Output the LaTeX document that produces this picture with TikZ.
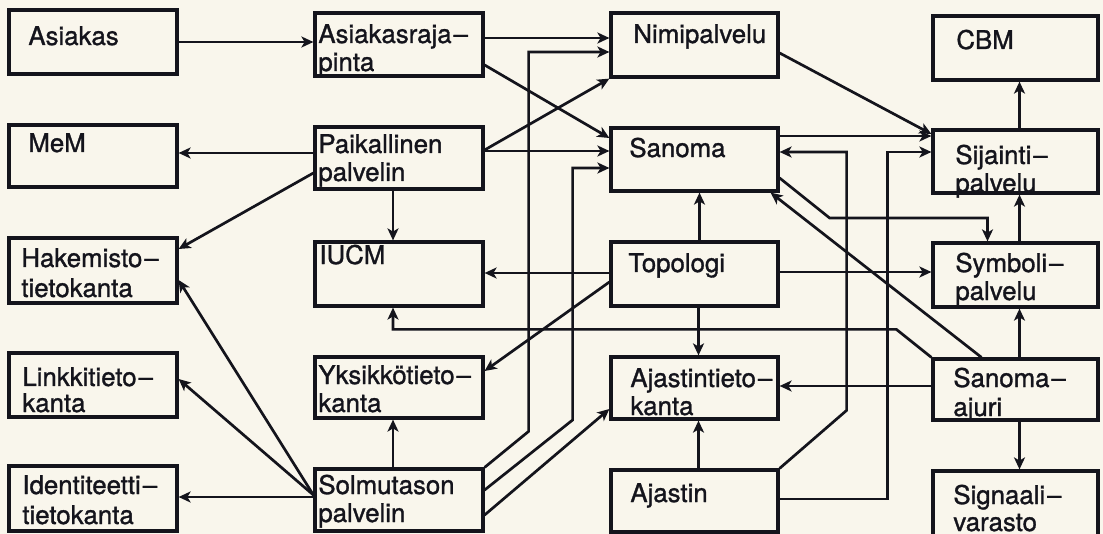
\documentclass[tikz,border=0pt]{standalone}
\usepackage{fontspec}
\setmainfont{TeX Gyre Heros}[RawFeature={embolden=1.2}]
\usetikzlibrary{arrows.meta,fit}
\definecolor{paper}{RGB}{249,246,236}
\definecolor{ink}{RGB}{20,20,28}
\newcommand{\hy}{\kern1pt–}
\begin{document}
\begin{tikzpicture}[x=0.5pt,y=-0.5pt,
  box/.style={draw=ink, line width=1.6pt, inner sep=0pt},
  lbl/.style={anchor=base west, inner sep=0pt, text=ink,
    font=\fontsize{12.9pt}{14pt}\selectfont},
  arr/.style={draw=ink, line width=1.35pt,
    -{Stealth[length=6pt,width=5.5pt,inset=1.6pt]}}]
\useasboundingbox (0,0) rectangle (1103,534);
\fill[paper] (0,0) rectangle (1103,534);
\clip (0,0) rectangle (1103,534);

% ---- boxes, column 1
\node[box, fit={(9,10) (177,74)}]   (asiakas) {};
\node[box, fit={(9,125) (177,187)}] (mem) {};
\node[box, fit={(9,238) (177,303)}] (hakem) {};
\node[box, fit={(9,353) (177,417)}] (linkki) {};
\node[box, fit={(9,466) (177,531)}] (ident) {};
% ---- column 2
\node[box, fit={(315,13) (483,76)}]   (asraja) {};
\node[box, fit={(315,127) (483,189)}] (paik) {};
\node[box, fit={(315,242) (483,306)}] (iucm) {};
\node[box, fit={(315,357) (483,418)}] (yksi) {};
\node[box, fit={(315,469) (483,531)}] (solmu) {};
% ---- column 3
\node[box, fit={(611,13) (778,77)}]   (nimi) {};
\node[box, fit={(611,128) (778,191)}] (sanoma) {};
\node[box, fit={(611,242) (778,306)}] (topo) {};
\node[box, fit={(611,357) (778,419)}] (ajtk) {};
\node[box, fit={(611,470) (778,532)}] (ajastin) {};
% ---- column 4
\node[box, fit={(933,16) (1098,80)}]   (cbm) {};
\node[box, fit={(933,130) (1098,193)}] (sij) {};
\node[box, fit={(933,243) (1098,307)}] (symb) {};
\node[box, fit={(933,359) (1098,420)}] (sajuri) {};
\node[box, fit={(933,471) (1098,545)}] (sign) {};

% ---- texts
\node[lbl] (asiakas-t) at (28,45) {Asiakas};
\node[lbl] (mem-t) at (28,152) {MeM};
\node[lbl] (hakem-t1) at (21,267) {Hakemisto\hy};
\node[lbl] (hakem-t2) at (21,297) {tietokanta};
\node[lbl] (linkki-t1) at (22,386) {Linkkitieto\hy};
\node[lbl] (linkki-t2) at (22,412) {kanta};
\node[lbl] (ident-t1) at (22,494) {Identiteetti\hy};
\node[lbl] (ident-t2) at (22,524) {tietokanta};

\node[lbl] (asraja-t1) at (318,43) {Asiakasraja\hy};
\node[lbl] (asraja-t2) at (318,71) {pinta};
\node[lbl] (paik-t1) at (318,153) {Paikallinen};
\node[lbl] (paik-t2) at (318,181) {palvelin};
\node[lbl] (iucm-t) at (319,264) {IUCM};
\node[lbl] (yksi-t1) at (318,384) {Yksikkötieto\hy};
\node[lbl] (yksi-t2) at (318,412) {kanta};
\node[lbl] (solmu-t1) at (318,494) {Solmutason};
\node[lbl] (solmu-t2) at (318,522) {palvelin};

\node[lbl] (nimi-t) at (633,43) {Nimipalvelu};
\node[lbl] (sanoma-t) at (629,157) {Sanoma};
\node[lbl] (topo-t) at (628,272) {Topologi};
\node[lbl] (ajtk-t1) at (630,387) {Ajastintieto\hy};
\node[lbl] (ajtk-t2) at (630,415) {kanta};
\node[lbl] (ajastin-t) at (630,502) {Ajastin};

\node[lbl] (cbm-t) at (956,49) {CBM};
\node[lbl] (sij-t1) at (955,164) {Sijainti\hy};
\node[lbl] (sij-t2) at (955,192) {palvelu};
\node[lbl] (symb-t1) at (955,272) {Symboli\hy};
\node[lbl] (symb-t2) at (955,300) {palvelu};
\node[lbl] (sajuri-t1) at (953,387) {Sanoma\hy};
\node[lbl] (sajuri-t2) at (953,416) {ajuri};
\node[lbl] (sign-t1) at (953,504) {Signaali\hy};
\node[lbl] (sign-t2) at (953,531) {varasto};

% ---- connectors
\draw[arr] (asiakas.east) -- (asiakas.east -| asraja.west);
\draw[arr] (paik.west |- 0,153) -- (mem.east |- 0,153);
\draw[arr] (paik.west |- 0,173) -- (hakem.east |- 0,249);
\draw[arr] (asraja.east |- 0,38) -- (nimi.west |- 0,38);
\draw[arr] (asraja.east |- 0,65) -- (sanoma.west |- 0,138);
\draw[arr] (paik.east |- 0,150) -- (nimi.south west);
\draw[arr] (paik.east |- 0,151) -- (sanoma.west |- 0,151);
\draw[arr] ([xshift=-3pt]paik.south) -- ([xshift=-3pt]iucm.north);

\draw[arr] (solmu.north east) -- ++(44,-36) |- (nimi.west |- 0,52);
\draw[arr] (solmu.east |- 0,490) -- ++(88,-70) |- (sanoma.west |- 0,168);
\draw[arr] (solmu.east |- 0,515) -- (ajtk.west |- 0,409);
\draw[arr] ([xshift=-3pt]solmu.north) -- ([xshift=-3pt]yksi.south);
\draw[arr] (solmu.west |- 0,495) -- (hakem.east |- 0,280);
\draw[arr] (solmu.west |- 0,495) -- (linkki.east |- 0,379);
\draw[arr] (solmu.west |- 0,497) -- (ident.east |- 0,497);

\draw[arr] ([xshift=2.5pt]topo.north) -- ([xshift=2.5pt]sanoma.south);
\draw[arr] (topo.west |- 0,273) -- (iucm.east |- 0,273);
\draw[arr] (topo.west |- 0,282) -- (yksi.east |- 0,371);
\draw[arr] ([xshift=2pt]topo.south) -- ([xshift=2pt]ajtk.north);
\draw[arr] (topo.east |- 0,272) -- (symb.west |- 0,272);

\draw[arr] (sanoma.east |- 0,136) -- (sij.west |- 0,136);
\draw[arr] (nimi.east |- 0,53) -- (sij.west |- 0,134);
\draw[arr] (sanoma.east |- 0,178) -- ++(50,40) -| ([xshift=-14pt]symb.north);

\draw[arr] (ajastin.north east) -- ++(67,-58) |- (sanoma.east |- 0,152);
\draw[arr] (ajastin.east |- 0,499) -- ++(108,0) |- (sij.west |- 0,152);
\draw[arr] ([xshift=2pt]ajastin.north) -- ([xshift=2pt]ajtk.south);

\draw[arr] ([xshift=2pt]sij.north) -- ([xshift=2pt]cbm.south);
\draw[arr] ([xshift=2pt]symb.north) -- ([xshift=2pt]sij.south);
\draw[arr] ([xshift=2pt]sajuri.north) -- ([xshift=2pt]symb.south);
\draw[arr] ([xshift=2pt]sajuri.south) -- ([xshift=2pt]sign.north);
\draw[arr] (sajuri.west |- 0,386) -- (ajtk.east |- 0,386);
\draw[arr] (sajuri.north west) -- ++(-35,-28) -| ([xshift=-3pt]iucm.south);
\draw[arr] ([xshift=-17pt]sajuri.north) -- ([xshift=-4.5pt]sanoma.south east);
\end{tikzpicture}
\end{document}
